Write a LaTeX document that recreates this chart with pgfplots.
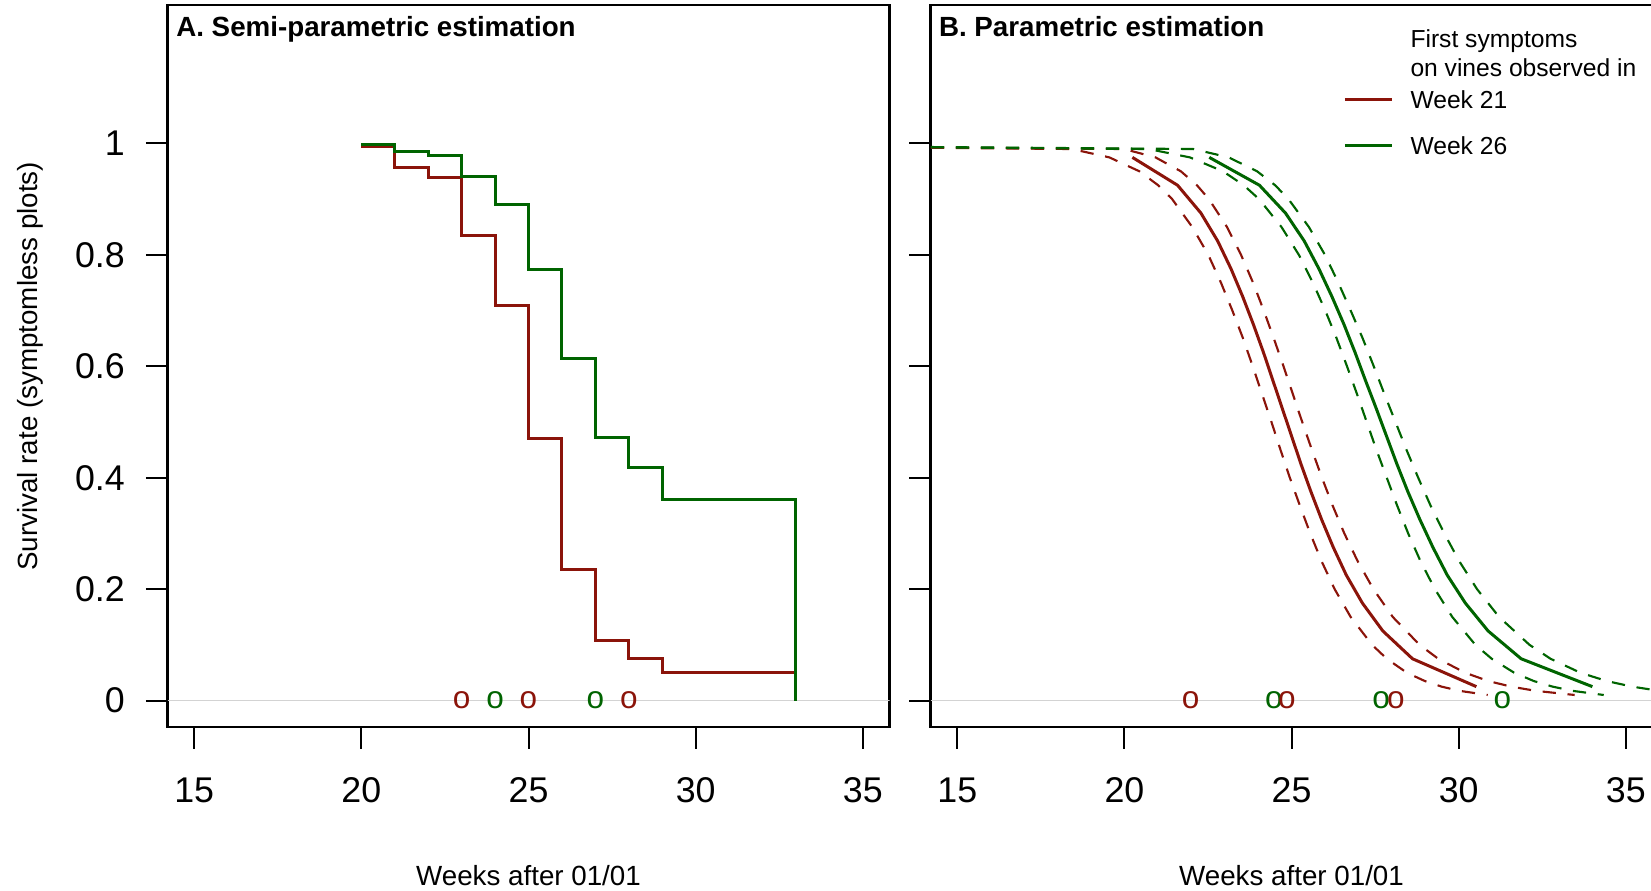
\documentclass[border=0pt]{standalone}
\usepackage{fontspec}
\setmainfont{Liberation Sans}
\usepackage{pgfplots}
\pgfplotsset{compat=1.18}
\definecolor{cred}{RGB}{139,20,10}
\definecolor{cgreen}{RGB}{0,100,0}
\definecolor{cgray}{RGB}{211,211,211}
\pgfplotsset{
  myaxis/.style={
    width=288.8pt, height=288.8pt, scale only axis,
    xmin=14.2, xmax=35.8, ymin=-0.048, ymax=1.248,
    axis line style={line width=0.9pt},
    xtick={15,20,25,30,35}, xticklabels={15,20,25,30,35},
    ytick={0,0.2,0.4,0.6,0.8,1},
    tick align=outside, xtick pos=bottom, ytick pos=left,
    major tick length=8.6pt,
    every tick/.style={black, line width=0.8pt},
    ticklabel style={font=\fontsize{14.3}{14.3}\selectfont, inner sep=0pt},
    xticklabel style={anchor=north, yshift=-11.3pt},
    yticklabel style={anchor=east, xshift=-8.3pt},
    xlabel={Weeks after 01/01},
    xlabel style={at={(axis description cs:0.5,-0.206)}, anchor=center, font=\fontsize{11.1}{11.1}\selectfont},
    /pgf/number format/assume math mode=true,
  },
  omark/.style={only marks, mark=text, text mark={o}, text mark as node=true,
    text mark style={font=\fontsize{12.6}{12.6}\selectfont, text=#1, inner sep=0pt, anchor=center}, color=#1},
}
\begin{document}
\begin{tikzpicture}
% ---------------- Panel A ----------------
\begin{axis}[myaxis, at={(67pt,65.08pt)}, anchor=south west,
  yticklabels={0,0.2,0.4,0.6,0.8,1},
  ylabel={Survival rate (symptomless plots)},
  ylabel style={at={(axis description cs:-0.19,0.5)}, anchor=center, font=\fontsize{11.1}{11.1}\selectfont}]
\addplot[cgray, line width=0.6pt, forget plot] coordinates {(14.2,0) (35.8,0)};
\addplot[cred, line width=1.2pt, const plot] coordinates {
(20,0.994) (21,0.956) (22,0.939) (23,0.835) (24,0.709) (25,0.470) (26,0.236) (27,0.108) (28,0.075) (29,0.0495) (33,0.0495)};
\addplot[cgreen, line width=1.2pt, const plot] coordinates {
(20,0.998) (21,0.985) (22,0.979) (23,0.941) (24,0.891) (25,0.774) (26,0.614) (27,0.472) (28,0.418) (29,0.361) (33,0)};
\addplot[omark=cgreen] coordinates {(24,0) (27,0)};
\addplot[omark=cred] coordinates {(23,0) (25,0) (28,0)};
\node[anchor=base west, inner sep=0pt, font=\bfseries\fontsize{11.1}{11.1}\selectfont] at (axis description cs:0.0115,0.9565) {A. Semi-parametric estimation};
\end{axis}
% ---------------- Panel B ----------------
\begin{axis}[myaxis, at={(372.2pt,65.08pt)}, anchor=south west,
  yticklabels={},
  legend cell align=left,
  legend style={at={(axis description cs:0.5717,0.8816)}, anchor=north west, draw=none, fill=none,
    inner sep=0pt, outer sep=0pt, row sep=11.5pt, column sep=7pt,
    font=\fontsize{9.85}{9.85}\selectfont,
    nodes={inner sep=0pt, text height=7.05pt, text depth=0pt}},
  legend image code/.code={\draw[#1] (0pt,0pt) -- (18.7pt,0pt);}]
\addlegendimage{cred, line width=1.2pt}
\addlegendentry{Week 21}
\addlegendimage{cgreen, line width=1.2pt}
\addlegendentry{Week 26}
\addplot[cgray, line width=0.6pt, forget plot] coordinates {(14.2,0) (35.8,0)};
% Week 21: fitted curve and confidence limits
\addplot[cred, line width=1.2pt, forget plot] coordinates {
(20.24,0.975) (21.59,0.925) (22.29,0.875) (22.79,0.825) (23.19,0.775) (23.54,0.725) (23.86,0.675) (24.16,0.625) (24.44,0.575) (24.72,0.525) (25.00,0.475) (25.28,0.425) (25.58,0.375) (25.90,0.325) (26.25,0.275) (26.64,0.225) (27.12,0.175) (27.73,0.125) (28.62,0.075) (30.53,0.025)};
\addplot[cred, line width=0.85pt, dash pattern=on 5.3pt off 4.7pt, forget plot] coordinates {
(0,1) (18.43,0.99) (19.55,0.975) (20.45,0.95) (21.01,0.925) (21.43,0.9) (22.03,0.85) (22.51,0.8) (22.89,0.75) (23.23,0.7) (23.55,0.65) (23.84,0.6) (24.12,0.55) (24.40,0.5) (24.67,0.45) (24.95,0.4) (25.25,0.35) (25.56,0.3) (25.90,0.25) (26.29,0.2) (26.77,0.15) (27.41,0.1) (27.85,0.075) (28.45,0.05) (28.99,0.035) (29.49,0.025) (30.02,0.0175) (30.87,0.01)};
\addplot[cred, line width=0.85pt, dash pattern=on 5.3pt off 4.7pt, forget plot] coordinates {
(0,1) (19.99,0.99) (20.93,0.975) (21.69,0.95) (22.17,0.925) (22.53,0.9) (23.07,0.85) (23.49,0.8) (23.85,0.75) (24.17,0.7) (24.47,0.65) (24.76,0.6) (25.04,0.55) (25.32,0.5) (25.61,0.45) (25.91,0.4) (26.23,0.35) (26.58,0.3) (26.98,0.25) (27.45,0.2) (28.03,0.15) (28.83,0.1) (29.39,0.075) (30.19,0.05) (30.89,0.035) (31.57,0.025) (32.30,0.0175) (33.47,0.01)};
% Week 26
\addplot[cgreen, line width=1.2pt, forget plot] coordinates {
(22.54,0.975) (24.04,0.925) (24.82,0.875) (25.38,0.825) (25.82,0.775) (26.21,0.725) (26.57,0.675) (26.90,0.625) (27.21,0.575) (27.53,0.525) (27.84,0.475) (28.15,0.425) (28.48,0.375) (28.84,0.325) (29.23,0.275) (29.66,0.225) (30.20,0.175) (30.88,0.125) (31.87,0.075) (34.00,0.025)};
\addplot[cgreen, line width=0.85pt, dash pattern=on 5.3pt off 4.7pt, forget plot] coordinates {
(0,1) (20.72,0.99) (21.96,0.975) (22.95,0.95) (23.57,0.925) (24.03,0.9) (24.70,0.85) (25.22,0.8) (25.64,0.75) (26.01,0.7) (26.35,0.65) (26.66,0.6) (26.96,0.55) (27.25,0.5) (27.54,0.45) (27.85,0.4) (28.16,0.35) (28.49,0.3) (28.86,0.25) (29.29,0.2) (29.81,0.15) (30.50,0.1) (30.99,0.075) (31.66,0.05) (32.25,0.035) (32.81,0.025) (33.40,0.0175) (34.34,0.01)};
\addplot[cgreen, line width=0.85pt, dash pattern=on 5.3pt off 4.7pt, forget plot] coordinates {
(0,1) (22.06,0.99) (23.12,0.975) (23.97,0.95) (24.51,0.925) (24.91,0.9) (25.52,0.85) (26.00,0.8) (26.40,0.75) (26.77,0.7) (27.13,0.65) (27.46,0.6) (27.78,0.55) (28.11,0.5) (28.44,0.45) (28.79,0.4) (29.16,0.35) (29.57,0.3) (30.02,0.25) (30.55,0.2) (31.21,0.15) (32.12,0.1) (32.75,0.075) (33.64,0.05) (34.43,0.035) (35.19,0.025) (36.00,0.0175) (37.30,0.01)};
\addplot[omark=cgreen, forget plot] coordinates {(24.47,0) (27.68,0) (31.31,0)};
\addplot[omark=cred, forget plot] coordinates {(21.98,0) (24.86,0) (28.12,0)};
\node[anchor=base west, inner sep=0pt, font=\bfseries\fontsize{11.1}{11.1}\selectfont] at (axis description cs:0.0111,0.9565) {B. Parametric estimation};
\node[anchor=base west, inner sep=0pt, font=\fontsize{9.85}{9.85}\selectfont] at (axis description cs:0.6641,0.9415) {First symptoms};
\node[anchor=base west, inner sep=0pt, font=\fontsize{9.85}{9.85}\selectfont] at (axis description cs:0.6641,0.9010) {on vines observed in};
\end{axis}
\pgfresetboundingbox
\useasboundingbox (0,0) rectangle (660.4pt,356pt);
\end{tikzpicture}
\end{document}
